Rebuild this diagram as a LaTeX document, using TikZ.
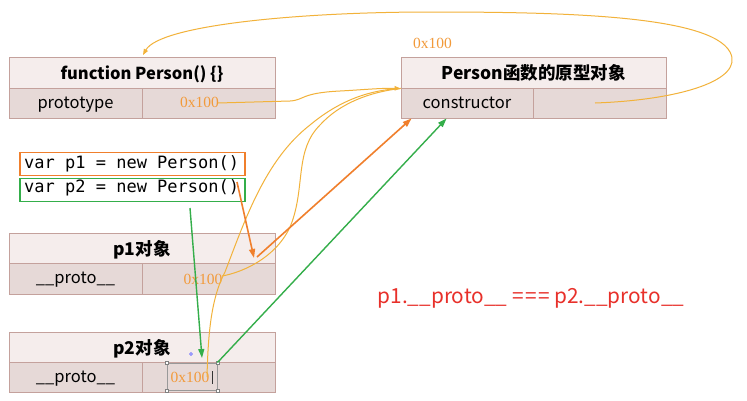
\documentclass[tikz,border=0pt]{standalone}
\usepackage{fontspec}
\setmainfont{Noto Sans CJK SC}
\newfontfamily\cjk{Noto Sans CJK SC}
\newfontfamily\addrfont{Liberation Serif}
\newfontfamily\mycodefont[WordSpace={1,0,0}]{DejaVu Sans Mono}
\usetikzlibrary{arrows.meta}
\definecolor{hfill}{HTML}{F5EDEC}
\definecolor{rfill}{HTML}{E6D9D7}
\definecolor{bordc}{HTML}{C4A19C}
\definecolor{addrc}{HTML}{F29A3A}
\definecolor{curvec}{HTML}{F2B23A}
\definecolor{arrowo}{HTML}{F07F2C}
\definecolor{greenc}{HTML}{34AE4A}
\definecolor{redc}{HTML}{E8302A}
\begin{document}
\begin{tikzpicture}[x=1pt,y=-1pt,
  hcell/.style={draw=bordc, fill=hfill, line width=0.9pt, inner sep=0pt, minimum height=31pt, text height=15pt, text depth=1pt, font=\cjk\bfseries\fontsize{16.5}{18}\selectfont},
  hcellz/.style={hcell, font=\cjk\bfseries\fontsize{17.5}{19}\selectfont},
  rcell/.style={draw=bordc, fill=rfill, line width=0.9pt, inner sep=0pt, minimum height=30pt, text height=13pt, text depth=3pt, font=\cjk\fontsize{16.5}{18}\selectfont},
  addr/.style={inner sep=0pt, text=addrc, font=\addrfont\fontsize{15.5}{17}\selectfont},
  codebox/.style={line width=1.4pt, inner sep=0pt, minimum width=225pt, minimum height=23pt},
  codetext/.style={inner sep=0pt, anchor=west, font=\mycodefont\fontsize{17}{19}\selectfont},
  lcurve/.style={draw=curvec, line width=1pt},
  tipo/.style={-{Triangle[length=9pt,width=6pt]}},
  tipl/.style={-{Triangle[length=6pt,width=4.5pt]}}
]
\useasboundingbox[fill=white] (0,0) rectangle (747,400);

% function Person box
\node[hcell, minimum width=266pt] (pfh) at (142,72.5) {function Person() \{\}};
\node[rcell, minimum width=133pt] (pfk) at (75.5,103) {prototype};
\node[rcell, minimum width=133pt] (pfv) at (208.5,103) {};
\node[addr] (pfa) at (199.5,102) {0x100};

% prototype object box
\node[hcellz, minimum width=265pt] (prh) at (533.5,72.5) {Person函数的原型对象};
\node[rcell, minimum width=132pt] (prk) at (467,103) {constructor};
\node[rcell, minimum width=133pt] (prv) at (599.5,103) {};
\node[addr] (pra) at (432.5,43) {0x100};

% code lines
\node[codebox, draw=arrowo] (code1) at (132.5,164) {};
\node[codebox, draw=greenc] (code2) at (132.5,190) {};
\node[codetext] (code1t) at (24,164) {var p1 = new Person()};
\node[codetext] (code2t) at (24,188) {var p2 = new Person()};

% p1 box
\node[hcellz, minimum width=266pt, minimum height=30pt] (p1h) at (142,248) {p1对象};
\node[rcell, minimum width=133pt, minimum height=31pt] (p1k) at (75.5,278.5) {\_\_proto\_\_};
\node[rcell, minimum width=133pt, minimum height=31pt] (p1v) at (208.5,278.5) {};
\node[addr] (p1a) at (203,279) {0x100};

% p2 box
\node[hcellz, minimum width=266pt, minimum height=30pt] (p2h) at (142,347) {p2对象};
\node[rcell, minimum width=133pt] (p2k) at (75.5,377) {\_\_proto\_\_};
\node[rcell, minimum width=133pt] (p2v) at (208.5,377) {};
\node[draw=gray!80, line width=0.8pt, minimum width=50pt, minimum height=27pt, inner sep=0pt] (sel) at (192,376.5) {};
\node[addr] (p2a) at (190,377) {0x100};
\foreach \c in {north west,north east,south west,south east}
  \node[draw=gray, fill=white, line width=0.5pt, minimum size=3pt, inner sep=0pt] at (sel.\c) {};
\node[fill=black!80, minimum width=1pt, minimum height=13pt, inner sep=0pt] (cursor) at (212,377) {};
\node[circle, draw=blue!60, fill=blue!20, minimum size=3pt, inner sep=0pt] (dot) at (191,354) {};

% equality text
\node[text=redc, font=\cjk\fontsize{20.8}{22}\selectfont, inner sep=0pt] (eq) at (531,298) {p1.\_\_proto\_\_ {=}\hspace{1.5pt}{=}\hspace{1.5pt}{=} p2.\_\_proto\_\_};

% light curves
\coordinate (pfaEnd) at (218,103);
\coordinate (p1aEnd) at (222,276);
\coordinate (p2aEnd) at (207,377);
\coordinate (conEnd) at (595,103);
\coordinate (topIn) at (143,55);
\draw[lcurve, tipl] (pfaEnd) -- (290,101) .. controls (305,100) and (300,93) .. (340,91) .. controls (360,90) and (380,88) .. (prh.south west);
\draw[lcurve] (p1aEnd) .. controls (245,272) and (280,255) .. (292,222) .. controls (305,185) and (295,150) .. (320,125) .. controls (340,103) and (370,92) .. (prh.south west);
\draw[lcurve] (p2aEnd) .. controls (208,340) and (210,300) .. (225,272) .. controls (245,220) and (265,160) .. (310,125) .. controls (340,100) and (370,90) .. (prh.south west);
\draw[lcurve, tipl] (conEnd) .. controls (680,100) and (745,80) .. (730,52) .. controls (710,15) and (560,12) .. (430,12) .. controls (300,12) and (160,25) .. (topIn);

% orange arrows
\coordinate (o1s) at (237,182);
\coordinate (o1e) at (254,258);
\coordinate (o2s) at (257,257);
\draw[arrowo, line width=1.6pt, tipo] (o1s) -- (o1e);
\draw[arrowo, line width=1.6pt, tipo] (o2s) -- ([xshift=11pt]prk.south west);
% green arrows
\coordinate (g1s) at (190,208);
\coordinate (g1e) at (202,358);
\draw[greenc, line width=1.4pt, tipo] (g1s) -- (g1e);
\draw[greenc, line width=1.4pt, tipo] (sel.north east) -- ([xshift=46pt]prk.south west);
\end{tikzpicture}
\end{document}
